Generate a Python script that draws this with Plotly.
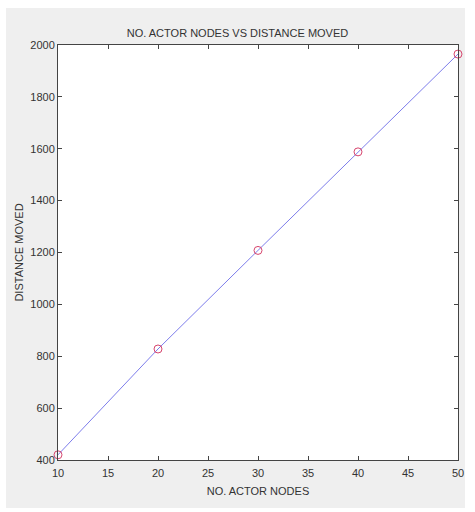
import plotly.graph_objects as go

# Number of actor nodes and the distance moved for each
actor_nodes = [10, 20, 30, 40, 50]
distance_moved = [420, 828, 1208, 1588, 1965]

x_ticks = [10, 15, 20, 25, 30, 35, 40, 45, 50]
y_ticks = [400, 600, 800, 1000, 1200, 1400, 1600, 1800, 2000]

fig = go.Figure()

fig.add_trace(go.Scatter(
    x=actor_nodes, y=distance_moved, mode="lines",
    line=dict(color="rgb(125,125,235)", width=1),
    hoverinfo="skip", showlegend=False,
))
fig.add_trace(go.Scatter(
    x=actor_nodes, y=distance_moved, mode="markers",
    marker=dict(symbol="circle-open", size=8, color="rgb(215,70,110)",
                line=dict(width=1)),
    cliponaxis=False, showlegend=False,
))

axis_common = dict(
    showgrid=False, zeroline=False, showline=True, linecolor="#444",
    linewidth=1, mirror="ticks", ticks="inside", ticklen=4,
    tickcolor="#444", tickfont=dict(size=11, color="#333"),
)

fig.update_layout(
    width=475, height=512,
    margin=dict(l=58, r=17, t=45, b=52),
    paper_bgcolor="white", plot_bgcolor="white",
    font=dict(family="Liberation Sans, Arial, sans-serif", size=11, color="#333"),
    title=dict(text="NO. ACTOR NODES VS DISTANCE MOVED", x=0.5, xanchor="center",
               y=1 - 33 / 512, yanchor="middle", font=dict(size=11, color="#333")),
    xaxis=dict(range=[10, 50], tickvals=x_ticks, ticklabelstandoff=3,
               title=dict(text="NO. ACTOR NODES", standoff=9, font=dict(size=11)),
               **axis_common),
    yaxis=dict(range=[400, 2000], tickvals=y_ticks,
               title=dict(text="DISTANCE MOVED", standoff=4, font=dict(size=11)),
               **axis_common),
    shapes=[
        dict(type="rect", xref="paper", yref="paper", layer="below",
             x0=(6 - 58) / 400, x1=(465 - 58) / 400,
             y0=(460 - 508) / 415, y1=(460 - 8) / 415,
             fillcolor="#efefef", line=dict(width=0)),
        dict(type="rect", xref="paper", yref="paper", layer="below",
             x0=0, x1=1, y0=0, y1=1,
             fillcolor="white", line=dict(width=0)),
    ],
)

fig.write_html("out.html")
